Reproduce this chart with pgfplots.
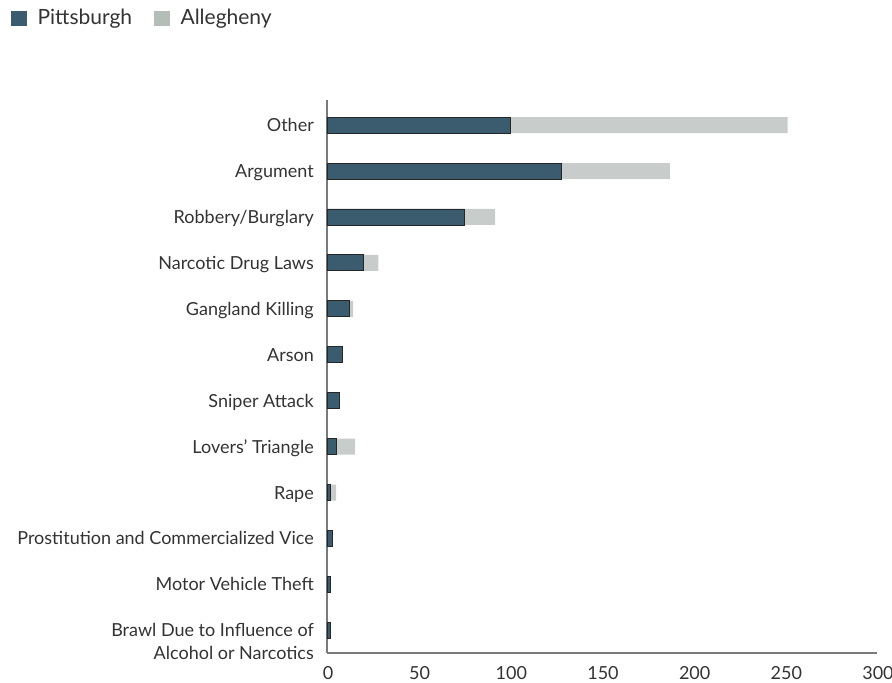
\documentclass[border=0pt]{standalone}
\usepackage{fontspec}
\setmainfont{Lato}
\usepackage{pgfplots}
\pgfplotsset{compat=1.18}
\definecolor{pitt}{HTML}{3B5B6E}
\definecolor{alle}{HTML}{C8CDCC}
\definecolor{alleleg}{HTML}{B5BDB9}
\definecolor{txt}{HTML}{333333}
\definecolor{axc}{HTML}{7A7A7A}
\begin{document}
\begin{tikzpicture}[x=1pt,y=1pt]
\useasboundingbox (0,0) rectangle (892,683);
\begin{axis}[
 at={(327pt,30pt)}, anchor=south west,
 scale only axis, width=550pt, height=552.7pt,
 xbar stacked, bar width=16pt,
 xmin=0, xmax=300, ymin=-0.494, ymax=11.54,
 axis lines*=left, axis line style={axc, line width=1.5pt, -},
 xtick={0,50,...,300}, ytick={0,...,11},
 yticklabels={{\begin{tabular}[t]{@{}r@{}}Brawl Due to Influence of\\Alcohol or Narcotics\end{tabular}},
   Motor Vehicle Theft, Prostitution and Commercialized Vice, Rape, Lovers’ Triangle,
   Sniper Attack, Arson, Gangland Killing, Narcotic Drug Laws, Robbery/Burglary, Argument, Other},
 major tick length=0pt,
 tick style={draw=none},
 ticklabel style={font=\fontsize{18}{23}\selectfont, text=txt},
 /pgf/number format/assume math mode=true,
 yticklabel style={anchor=base east, inner sep=0pt, xshift=-13pt, yshift=-6.5pt},
 xticklabel style={inner sep=0pt, anchor=center, yshift=-20pt, xshift=1pt},
 legend style={at={(axis description cs:-0.5745,1.1489)}, anchor=west, draw=none, fill=none,
   inner sep=0pt, legend columns=2, font=\fontsize{21}{25}\selectfont, text=txt,
   nodes={inner sep=0pt},
   /tikz/every odd column/.append style={column sep=11pt},
   /tikz/every even column/.append style={column sep=22pt}},
 legend cell align=left,
]
\addlegendimage{legend image code/.code={\fill[pitt] (0pt,-7pt) rectangle (15pt,7pt);}}
\addlegendentry{Pittsburgh}
\addlegendimage{legend image code/.code={\fill[alleleg] (0pt,-7pt) rectangle (15pt,7pt);}}
\addlegendentry{Allegheny}
\addplot[fill=pitt, draw=black!85, line width=0.8pt] coordinates {
 (2,0) (2,1) (2.7,2) (2,3) (5,4) (7,5) (8.3,6) (12,7) (20,8) (75,9) (128,10) (100,11)};
\addplot[fill=alle, draw=none] coordinates {
 (0,0) (0,1) (0,2) (3,3) (10.4,4) (0,5) (0,6) (2.2,7) (8,8) (16.7,9) (59,10) (151.3,11)};
\end{axis}
\end{tikzpicture}
\end{document}
